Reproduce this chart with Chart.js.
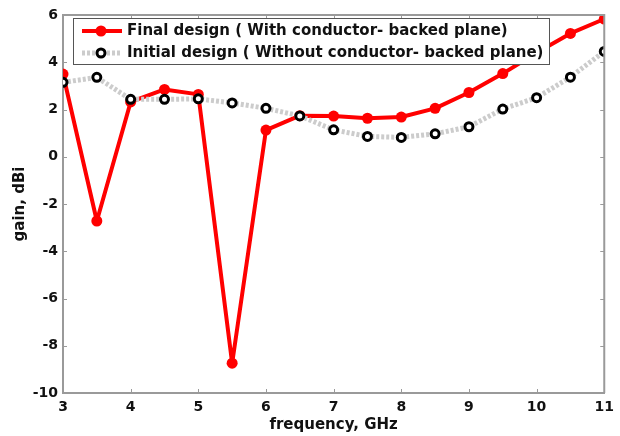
<!DOCTYPE html>
<html>
<head>
<meta charset="utf-8">
<script src="https://cdn.jsdelivr.net/npm/chart.js@4/dist/chart.umd.min.js"></script>
<style>
html,body{margin:0;padding:0;background:#fff;}
#wrap{width:620px;height:436px;position:relative;}
</style>
</head>
<body>
<div id="wrap"><canvas id="c" width="620" height="436"></canvas></div>
<script>
const frequency = [3, 3.5, 4, 4.5, 5, 5.5, 6, 6.5, 7, 7.5, 8, 8.5, 9, 9.5, 10, 10.5, 11];
const finalDesign = [3.5, -2.72, 2.32, 2.85, 2.64, -8.74, 1.13, 1.74, 1.72, 1.63, 1.68, 2.05, 2.72, 3.52, 4.4, 5.22, 5.83];
const initialDesign = [3.15, 3.36, 2.43, 2.43, 2.45, 2.28, 2.05, 1.73, 1.14, 0.86, 0.82, 0.97, 1.27, 2.02, 2.5, 3.37, 4.46];
const xTicks = [3, 4, 5, 6, 7, 8, 9, 10, 11];
const yTicks = [-10, -8, -6, -4, -2, 0, 2, 4, 6];
const legendLabels = ['Final design ( With conductor- backed plane)', 'Initial design ( Without conductor- backed plane)'];
const xTitle = 'frequency, GHz';
const yTitle = 'gain, dBi';

const FONT = '"DejaVu Sans", sans-serif';
const AXIS_COLOR = '#9a9a9a';

const framePlugin = {
  id: 'frame',
  afterDatasetsDraw(chart) {
    const ctx = chart.ctx;
    const a = chart.chartArea;
    const xs = chart.scales.x, ys = chart.scales.y;
    ctx.save();
    ctx.strokeStyle = AXIS_COLOR;
    ctx.lineWidth = 2;
    ctx.beginPath();
    ctx.moveTo(a.left, a.top); ctx.lineTo(a.right, a.top); ctx.lineTo(a.right, a.bottom);
    ctx.stroke();
    ctx.lineWidth = 1;
    ctx.beginPath();
    const tl = 4;
    xTicks.forEach(v => {
      const px = Math.round(xs.getPixelForValue(v)) + 0.5;
      ctx.moveTo(px, a.bottom); ctx.lineTo(px, a.bottom - tl);
      ctx.moveTo(px, a.top); ctx.lineTo(px, a.top + tl);
    });
    yTicks.forEach(v => {
      const py = Math.round(ys.getPixelForValue(v)) + 0.5;
      ctx.moveTo(a.left, py); ctx.lineTo(a.left + tl, py);
      ctx.moveTo(a.right, py); ctx.lineTo(a.right - tl, py);
    });
    ctx.stroke();

    // legend
    const lx = 73, ly = 18, lw = 476, lh = 46;
    ctx.fillStyle = '#ffffff';
    ctx.fillRect(lx, ly, lw, lh);
    ctx.strokeStyle = '#555555';
    ctx.lineWidth = 1;
    ctx.strokeRect(lx + 0.5, ly + 0.5, lw, lh);
    const rows = [31, 53];
    ctx.strokeStyle = '#ff0000';
    ctx.lineWidth = 4;
    ctx.setLineDash([]);
    ctx.beginPath(); ctx.moveTo(82, rows[0]); ctx.lineTo(122, rows[0]); ctx.stroke();
    ctx.fillStyle = '#ff0000';
    ctx.beginPath(); ctx.arc(101, rows[0], 5.5, 0, Math.PI * 2); ctx.fill();
    ctx.strokeStyle = '#cccccc';
    ctx.lineWidth = 5;
    ctx.setLineDash([3, 2]);
    ctx.beginPath(); ctx.moveTo(82, rows[1]); ctx.lineTo(122, rows[1]); ctx.stroke();
    ctx.setLineDash([]);
    ctx.fillStyle = '#ffffff';
    ctx.strokeStyle = '#000000';
    ctx.lineWidth = 3;
    ctx.beginPath(); ctx.arc(101, rows[1], 4, 0, Math.PI * 2); ctx.fill(); ctx.stroke();
    ctx.fillStyle = '#111111';
    ctx.font = 'bold 15px ' + FONT;
    ctx.textBaseline = 'middle';
    ctx.textAlign = 'left';
    ctx.fillText(legendLabels[0], 127, rows[0]);
    ctx.fillText(legendLabels[1], 127, rows[1]);
    ctx.restore();
  }
};

const data = {
  datasets: [
    {
      label: legendLabels[0],
      data: frequency.map((f, i) => ({x: f, y: finalDesign[i]})),
      borderColor: '#ff0000',
      backgroundColor: '#ff0000',
      borderWidth: 4,
      borderJoinStyle: 'round',
      borderCapStyle: 'round',
      pointRadius: 5.5,
      pointBorderWidth: 0,
      pointBackgroundColor: '#ff0000',
      order: 2
    },
    {
      label: legendLabels[1],
      data: frequency.map((f, i) => ({x: f, y: initialDesign[i]})),
      borderColor: '#cccccc',
      borderWidth: 5,
      borderDash: [3, 2],
      borderJoinStyle: 'round',
      pointRadius: 4,
      pointBorderWidth: 3,
      pointBorderColor: '#000000',
      pointBackgroundColor: '#ffffff',
      order: 1
    }
  ]
};

new Chart(document.getElementById('c'), {
  type: 'line',
  data: data,
  options: {
    responsive: false,
    animation: false,
    devicePixelRatio: 1,
    layout: {padding: {top: 15, right: 9, left: 0, bottom: 0}},
    plugins: {legend: {display: false}, tooltip: {enabled: false}},
    scales: {
      x: {
        type: 'linear', min: 3, max: 11,
        afterFit(s) { s.height = 43; },
        afterBuildTicks(s) { s.ticks = xTicks.map(v => ({value: v})); },
        grid: {display: true, drawOnChartArea: false, drawTicks: false},
        border: {display: true, color: AXIS_COLOR, width: 2},
        ticks: {color: '#111', font: {family: FONT, size: 14, weight: 'bold'}, padding: 6, maxRotation: 0},
        title: {display: true, text: xTitle, color: '#111', font: {family: FONT, size: 15, weight: 'bold'}, padding: {top: 0, bottom: 2}}
      },
      y: {
        type: 'linear', min: -10, max: 6,
        afterFit(s) { s.width = 63; },
        afterBuildTicks(s) { s.ticks = yTicks.map(v => ({value: v})); },
        grid: {display: true, drawOnChartArea: false, drawTicks: false},
        border: {display: true, color: AXIS_COLOR, width: 2},
        ticks: {color: '#111', font: {family: FONT, size: 14, weight: 'bold'}, padding: 5},
        title: {display: true, text: yTitle, color: '#111', font: {family: FONT, size: 15, weight: 'bold'}, padding: {top: 11, bottom: 0}}
      }
    }
  },
  plugins: [framePlugin]
});
</script>
</body>
</html>
